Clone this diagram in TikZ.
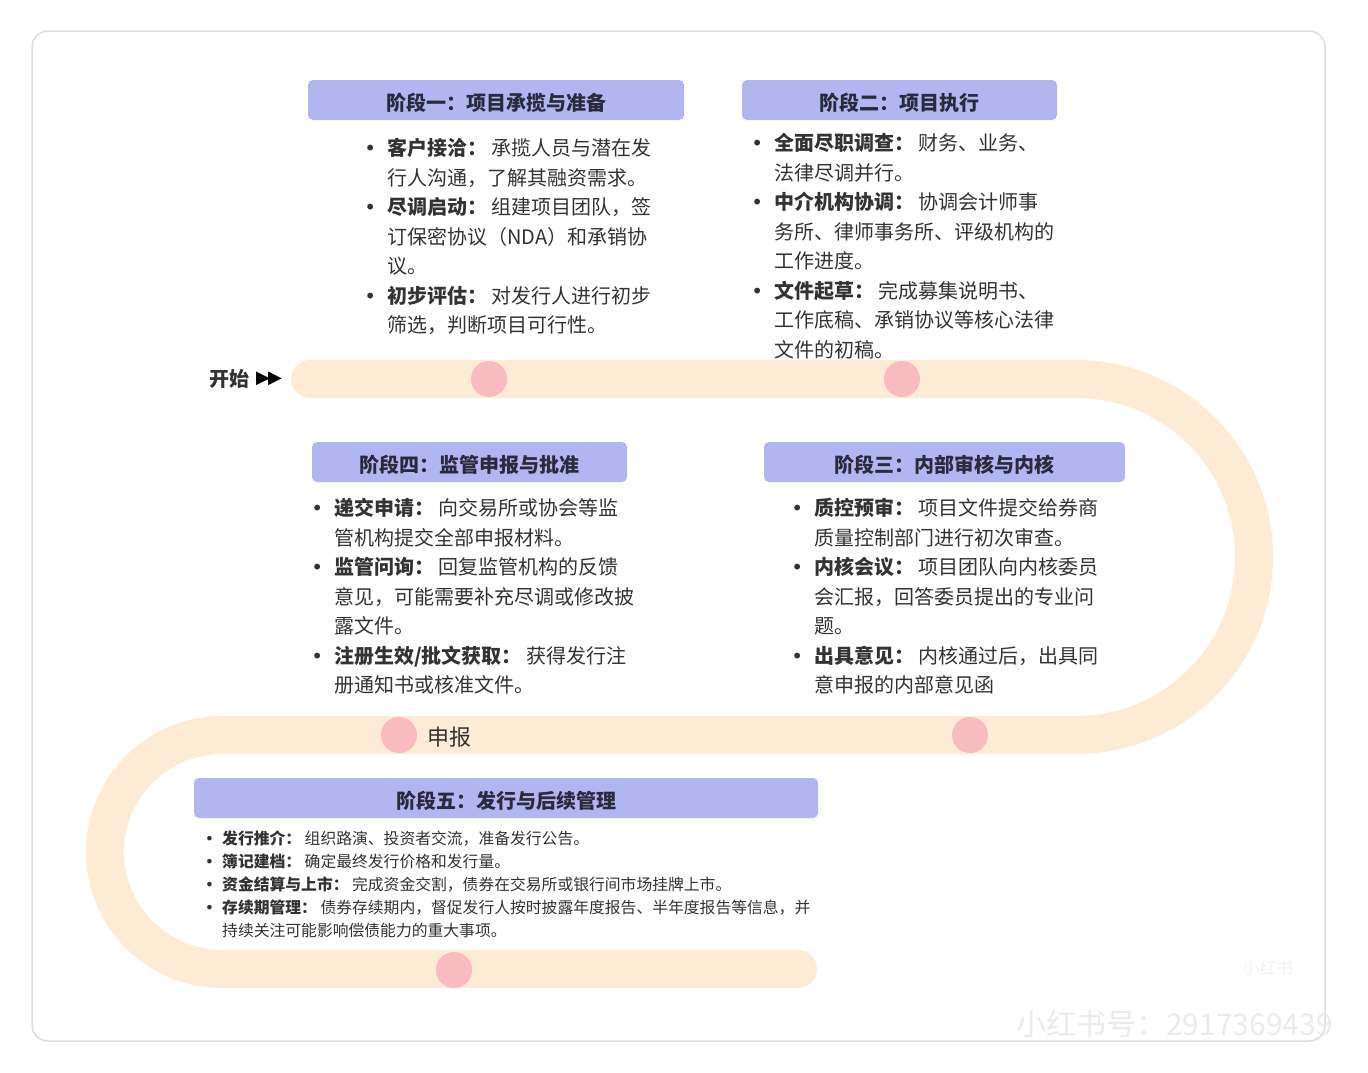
\documentclass[tikz,border=0pt]{standalone}
\usepackage{fontspec}
\setmainfont{Noto Sans CJK SC}
\newfontfamily\djf{DejaVu Sans}
\definecolor{trackc}{HTML}{FDEBD5}
\definecolor{dotc}{HTML}{F7BBC0}
\definecolor{hdrc}{HTML}{B2B6F0}
\definecolor{hdrtext}{HTML}{2A2A3E}
\definecolor{bodyc}{HTML}{333333}
\definecolor{framec}{HTML}{DDDDDD}
\definecolor{wmc}{HTML}{EBEBEB}
\newcommand\bul{\llap{{\djf •}\hspace{11pt}}}
\newcommand\bulsm{\llap{{\djf •}\hspace{8pt}}}
\begin{document}
\begin{tikzpicture}[x=1pt,y=-1pt,
  track/.style={line width=38pt, draw=trackc, line cap=round},
  dot/.style={circle, fill=dotc, minimum size=36pt, inner sep=0pt},
  hdr/.style={fill=hdrc, rounded corners=5pt, minimum height=40pt, inner sep=0pt,
    text height=20pt, text depth=0pt,
    font=\fontsize{20}{24}\selectfont\bfseries, text=hdrtext},
  body/.style={anchor=north west, inner sep=0pt, align=left,
    font=\fontsize{20}{29.5}\selectfont, text=bodyc},
  smallbody/.style={anchor=north west, inner sep=0pt, align=left,
    font=\fontsize{15.8}{23}\selectfont, text=bodyc}]
\useasboundingbox (0,0) rectangle (1368,1072);
\fill[white] (0,0) rectangle (1368,1072);
% frame
\draw[draw=framec, line width=1.5pt, rounded corners=16pt] (32,31) rectangle (1325,1041);
% track
\coordinate (s0) at (310,379);
\coordinate (r0) at (1076,379);
\coordinate (m0) at (222,735);
\coordinate (e0) at (798,969);
\draw[track] (s0) -- (r0) arc[start angle=-90, end angle=90, radius=178]
  -- (m0) arc[start angle=-90, end angle=-270, radius=117] -- (e0);
% dots
\node[dot] (d1) at (489,379) {};
\node[dot] (d2) at (902,379) {};
\node[dot] (d3) at (970,735) {};
\node[dot] (d4) at (399,735) {};
\node[dot] (d5) at (454,970) {};
% labels on track
\node[anchor=east, inner sep=0pt, font=\fontsize{20}{24}\selectfont\bfseries, text=bodyc] (start) at (250,379) {开始};
\node[anchor=west, inner sep=0pt, font=\djf\fontsize{18}{20}\selectfont, text=black] (arr) at (256,379) {▶\kern-2pt▶};
\node[anchor=west, inner sep=0pt, font=\fontsize{22}{26}\selectfont, text=bodyc] (lbl) at (427,737) {申报};
% headers
\node[hdr, minimum width=376pt] (h1) at (496,100) {阶段一：项目承揽与准备};
\node[hdr, minimum width=315pt] (h2) at (899.5,100) {阶段二：项目执行};
\node[hdr, minimum width=361pt] (h3) at (944.5,462) {阶段三：内部审核与内核};
\node[hdr, minimum width=315pt] (h4) at (469.5,462) {阶段四：监管申报与批准};
\node[hdr, minimum width=624pt] (h5) at (506,798) {阶段五：发行与后续管理};
% bodies
\node[body] (b1) at (387,135.4) {\bul\rule{0pt}{20pt}\textbf{客户接洽：} 承揽人员与潜在发\\
行人沟通，了解其融资需求。\\
\bul\textbf{尽调启动：} 组建项目团队，签\\
订保密协议（NDA）和承销协\\
议。\\
\bul\textbf{初步评估：} 对发行人进行初步\\
筛选，判断项目可行性。};
\node[body] (b2) at (774,130.4) {\bul\rule{0pt}{20pt}\textbf{全面尽职调查：} 财务、业务、\\
法律尽调并行。\\
\bul\textbf{中介机构协调：} 协调会计师事\\
务所、律师事务所、评级机构的\\
工作进度。\\
\bul\textbf{文件起草：} 完成募集说明书、\\
工作底稿、承销协议等核心法律\\
文件的初稿。};
\node[body] (b3) at (814,495.4) {\bul\rule{0pt}{20pt}\textbf{质控预审：} 项目文件提交给券商\\
质量控制部门进行初次审查。\\
\bul\textbf{内核会议：} 项目团队向内核委员\\
会汇报，回答委员提出的专业问\\
题。\\
\bul\textbf{出具意见：} 内核通过后，出具同\\
意申报的内部意见函};
\node[body] (b4) at (334,495.4) {\bul\rule{0pt}{20pt}\textbf{递交申请：} 向交易所或协会等监\\
管机构提交全部申报材料。\\
\bul\textbf{监管问询：} 回复监管机构的反馈\\
意见，可能需要补充尽调或修改披\\
露文件。\\
\bul\textbf{注册生效/批文获取：} 获得发行注\\
册通知书或核准文件。};
\node[smallbody] (b5) at (222,828.3) {\bulsm\rule{0pt}{16pt}\textbf{发行推介：} 组织路演、投资者交流，准备发行公告。\\
\bulsm\textbf{簿记建档：} 确定最终发行价格和发行量。\\
\bulsm\textbf{资金结算与上市：} 完成资金交割，债券在交易所或银行间市场挂牌上市。\\
\bulsm\textbf{存续期管理：} 债券存续期内，督促发行人按时披露年度报告、半年度报告等信息，并\\
持续关注可能影响偿债能力的重大事项。};
% watermark
\node[anchor=center, inner sep=0pt, font=\fontsize{17}{20}\selectfont, text=wmc!70] (wm1) at (1268,968) {小红书};
\node[anchor=west, inner sep=0pt, font=\fontsize{30}{34}\selectfont, text=wmc] (wm2) at (1016,1024) {小红书号：2917369439};
\end{tikzpicture}
\end{document}
